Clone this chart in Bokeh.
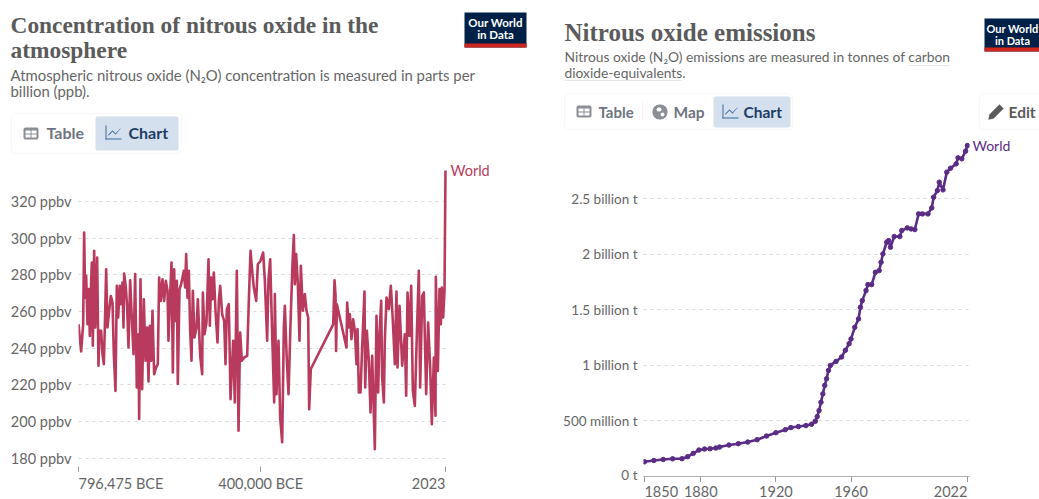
from bokeh.plotting import figure
from bokeh.layouts import row, column
from bokeh.models import Label, BoxAnnotation, PolyAnnotation, FixedTicker, Range1d
from bokeh.core.properties import value
from bokeh.embed import file_html
from bokeh.resources import INLINE

# --- Concentration (year in kyr, ppb) ---
conc_kyr = [-796.5,-790.7,-786.3,-784.2,-782.0,-779.8,-776.9,-774.7,-771.8,-769.7,-767.5,-765.3,-763.9,-762.4,-760.2,-758.1,-755.9,-753.0,-750.8,-747.2,-744.3,-741.4,-739.2,-736.3,-733.4,-729.8,-726.1,-722.5,-719.6,-716.0,-713.1,-710.2,-706.6,-704.4,-700.8,-698.6,-697.1,-693.5,-690.6,-687.7,-684.1,-680.5,-676.8,-673.2,-669.6,-666.0,-664.5,-661.6,-658.0,-654.3,-650.7,-647.1,-644.2,-641.3,-638.4,-635.5,-631.9,-627.5,-623.9,-621.0,-617.4,-613.7,-610.1,-606.5,-602.8,-600.7,-597.0,-594.1,-591.2,-588.3,-586.2,-582.5,-580.4,-576.7,-573.1,-570.2,-567.3,-564.4,-562.2,-559.3,-556.4,-553.5,-550.6,-547.7,-544.1,-539.7,-536.8,
 -531.7,-527.4,-525.9,-522.3,-518.0,-513.6,-510.7,-507.8,-504.9,-502.0,-498.4,-494.0,-491.1,-488.2,-483.9,-479.5,-476.6,-473.7,-469.4,-465.7,-459.9,-456.3,-452.0,-448.3,-444.7,-441.1,-436.0,-429.5,-425.9,-422.2,-418.6,-415.0,-409.9,-406.3,-400.5,-394.7,-391.0,-386.0,-383.1,-379.4,-375.1,-370.7,-369.3,-365.7,-361.3,-357.7,-353.3,-349.7,-347.5,-343.2,-339.5,-335.2,-330.8,-327.9,-325.8,-322.9,-319.2,-315.6,-312.7,-308.4,-304.0,-300.4,-296.7,-294.6,-291.0,
 -242.3,-239.4,-237.3,-236.0,-234.3,-213.4,-211.9,-208.3,-206.1,-202.5,-198.9,-195.2,-191.6,-189.4,-186.5,-182.9,-179.3,-174.2,-172.7,-169.1,-164.8,-161.1,-157.5,-151.7,-148.1,-144.5,-141.6,-137.9,-135.8,-132.1,-130.0,-126.3,-121.3,-116.9,-112.5,-108.2,-104.6,-102.4,-98.0,-92.2,-86.4,-83.5,-80.6,-76.3,-72.6,-69.0,-64.7,-60.3,-56.0,-53.1,-48.7,-45.1,-40.0,-35.7,-31.3,-27.7,-23.3,-19.7,-19.0,-14.6,-11.0,-8.1,-6.0,-3.0,-0.1,2.023]
conc_ppb = [253.1,238.2,253.1,303.1,267.6,279.5,253.1,272.2,246.7,270.4,286.7,241.3,267.6,293.1,251.3,265.8,289.5,230.4,249.5,249.5,236.7,231.3,251.3,283.1,251.3,260.4,268.5,264.9,236.7,216.7,274.0,256.7,274.0,264.0,275.8,251.3,280.7,273.1,262.2,240.4,277.1,256.7,236.7,280.4,218.6,247.6,201.3,277.6,217.6,266.7,233.1,251.3,221.8,252.2,233.1,260.4,225.8,229.5,231.3,278.5,265.8,277.6,265.8,276.7,271.3,244.0,269.5,286.7,226.7,283.1,254.9,276.7,220.4,272.2,274.9,278.5,282.2,273.1,291.3,267.6,282.2,249.5,233.1,271.3,245.8,251.3,266.7,
 235.8,225.8,270.4,247.6,254.0,288.5,252.2,278.5,266.7,281.3,260.4,243.1,265.8,274.0,258.5,254.9,231.3,261.3,264.0,212.2,244.0,210.4,282.2,194.9,248.5,233.1,234.9,235.8,265.8,293.1,282.2,273.1,265.8,285.8,287.6,292.2,276.7,244.0,277.6,288.5,247.6,210.4,269.5,214.9,244.0,202.2,188.6,251.3,263.1,233.1,214.9,253.1,286.7,301.8,274.9,291.3,274.9,244.0,284.9,260.4,269.5,260.4,256.7,206.7,228.6,
 253.0,277.0,269.5,238.5,264.0,240.4,264.9,251.3,258.5,244.9,255.8,249.5,231.3,250.4,215.8,215.8,240.4,270.9,218.5,249.5,233.1,204.9,235.8,184.9,257.6,215.8,247.6,265.8,224.0,210.4,244.0,267.6,261.3,274.0,254.9,231.3,270.9,229.5,263.1,230.4,247.6,214.0,270.4,246.7,274.0,216.7,208.5,247.6,282.2,218.5,268.5,270.4,214.9,254.0,229.5,198.5,234.9,203.1,278.9,227.6,272.2,253.1,273.1,256.7,271.3,337.0]
conc_years = [k * 1000 for k in conc_kyr]
conc_ticks = [320, 300, 280, 260, 240, 220, 200, 180]
conc_xtick = [-796475, -400000, 2023]
conc_xlabels = ["796,475 BCE", "400,000 BCE", "2023"]
conc_align = ["left", "center", "right"]

# --- Emissions (year, million tonnes) ---
emis_years = [1850,1855,1860,1865,1870,1873,1876,1879,1882,1885,1888,1890,1895,1900,1905,1910,1915,1920,1925,1928,1932,1936,1939,1941,1942,1943,1944,1945,1946,1947,1948,1949,1952,1955,1957,1959,1960,1962,1964,1965,1966,1968,1969,1971,1973,1975,1976,1977,1979,1980,1981,1983,1986,1987,1990,1992,1994,1996,1998,2001,2003,2004,2006,2007,2009,2011,2013,2016,2017,2019,2021,2022]
emis_mt = [132,144,153,159,160,178,208,238,247,250,256,265,283,295,310,331,364,394,421,440,449,458,470,497,539,593,668,743,819,879,954,999,1035,1075,1135,1195,1237,1342,1417,1522,1582,1672,1726,1726,1837,1852,1927,2002,2107,2122,2062,2158,2158,2212,2236,2227,2221,2362,2362,2362,2416,2512,2572,2647,2578,2737,2773,2812,2866,2857,2926,2977]
emis_ticks = [0, 500, 1000, 1500, 2000, 2500]
emis_ylabels = ["0 t", "500 million t", "1 billion t", "1.5 billion t", "2 billion t", "2.5 billion t"]
emis_xtick = [1850, 1880, 1920, 1960, 2022]
emis_xlabels = ["1850", "1880", "1920", "1960", "2022"]
emis_align = ["left", "center", "center", "center", "right"]

RED, PURPLE = "#b83b5e", "#5b2c86"
GREY, NAVY = "#666666", "#1d3d63"
TITLE = "#5b5b5b"
SERIF = "Liberation Serif"


def strip(w, h):
    p = figure(width=w, height=h, output_backend="svg", toolbar_location=None, outline_line_color=None,
               min_border=0, x_range=Range1d(0, w), y_range=Range1d(h, 0))
    p.axis.visible = False
    p.grid.visible = False
    return p


def tx(p, x, y, s, size, color, font="Lato", style="normal", align="left"):
    p.add_layout(Label(x=x, y=y, text=s, text_font=font, text_font_size=f"{size}px", text_color=color,
                       text_font_style=style, text_align=align, text_baseline="middle"))


def box(p, l, t, r, b, fill, line=None, rad=0, dash="solid"):
    p.add_layout(BoxAnnotation(left=l, right=r, top=t, bottom=b, fill_color=fill, fill_alpha=1 if fill else 0,
                               line_color=line, line_dash=dash, line_width=1, border_radius=rad, level="underlay"))


def logo(p, l, t, r, b, cx, size):
    box(p, l, t, r, b, "#002147")
    box(p, l, b - 4, r, b, "#ce261e")
    tx(p, cx, t + 10, "Our World", size, "white", style="bold", align="center")
    tx(p, cx, t + 22, "in Data", size, "white", style="bold", align="center")


def table_icon(p, l, t):
    box(p, l, t, l + 15, t + 12, "#8a8f96", rad=2)
    box(p, l + 2, t + 3, l + 7, t + 6, "white")
    box(p, l + 8, t + 3, l + 13, t + 6, "white")
    box(p, l + 2, t + 7, l + 7, t + 10, "white")
    box(p, l + 8, t + 7, l + 13, t + 10, "white")


def chart_icon(p, l, t):
    box(p, l, t, l + 1, t + 14, "#3f6a99")
    box(p, l, t + 13, l + 16, t + 14, "#3f6a99")
    p.add_layout(PolyAnnotation(xs=[l + 3, l + 7, l + 10, l + 15, l + 10, l + 7, l + 3],
                                ys=[t + 9, t + 5, t + 8, t + 3, t + 9, t + 6, t + 10],
                                fill_color="#3f6a99", fill_alpha=1, line_color="#3f6a99", line_width=1, level="underlay"))


def style_y(ya, size, standoff):
    ya.axis_line_color = None
    ya.major_tick_line_color = None
    ya.major_tick_out = 0
    ya.major_tick_in = 0
    ya.minor_tick_line_color = None
    ya.minor_tick_out = 0
    ya.major_label_text_font = "Lato"
    ya.major_label_text_font_size = size
    ya.major_label_text_color = GREY
    ya.major_label_standoff = standoff


def style_x(xa, ticks, line):
    xa.ticker = FixedTicker(ticks=ticks)
    xa.major_label_overrides = {t: "" for t in ticks}
    xa.major_label_text_font_size = "1px"
    xa.major_label_standoff = 0
    xa.axis_line_color = line
    xa.major_tick_line_color = "#999999"
    xa.major_tick_in = 0
    xa.major_tick_out = 6
    xa.minor_tick_line_color = None
    xa.minor_tick_out = 0


# ---------- Left ----------
lhead = strip(530, 160)
tx(lhead, 10, 24, "Concentration of nitrous oxide in the", 23.4, TITLE, font=SERIF, style="bold")
tx(lhead, 10, 49, "atmosphere", 23.4, TITLE, font=SERIF, style="bold")
tx(lhead, 10, 74, "Atmospheric nitrous oxide (N\u2082O) concentration is measured in parts per", 14.9, GREY)
tx(lhead, 10, 90, "billion (ppb).", 14.9, GREY)
logo(lhead, 464, 12, 526, 47, 495, 11.5)
box(lhead, 11, 113, 181, 153, "white", "#e4e6e8", rad=4)
box(lhead, 95, 116, 178, 150, "#d4e0ee", rad=2)
table_icon(lhead, 23, 127)
tx(lhead, 46, 132, "Table", 16, "#6e7581", style="bold")
chart_icon(lhead, 105, 125)
tx(lhead, 128, 132, "Chart", 16, NAVY, style="bold")

left = figure(width=530, height=312, output_backend="svg", toolbar_location=None,
              x_range=Range1d(-796475, 6400), y_range=Range1d(175.4, 339.7),
              min_border_left=78, min_border_right=83, min_border_top=5, min_border_bottom=6,
              outline_line_color=None)
left.line(conc_years, conc_ppb, line_color=RED, line_width=2.6, line_join="round")
left.xgrid.visible = False
left.ygrid.ticker = FixedTicker(ticks=conc_ticks)
left.ygrid.grid_line_color = "#d9d9d9"
left.ygrid.grid_line_dash = "3 4"
left.yaxis[0].ticker = FixedTicker(ticks=conc_ticks)
left.yaxis[0].major_label_overrides = {v: f"{v} ppbv" for v in conc_ticks}
style_y(left.yaxis[0], "14.5px", 7)
style_x(left.xaxis[0], conc_xtick, None)
left.add_layout(Label(x=conc_xtick[-1], y=conc_ppb[-1], x_offset=5, y_offset=0, text="World", text_font="Lato",
                      text_font_size="14.5px", text_color=RED, text_baseline="middle"), "right")

lfoot = figure(width=530, height=27, output_backend="svg", toolbar_location=None, outline_line_color=None,
               x_range=left.x_range, y_range=Range1d(0, 27), min_border_left=78, min_border_right=83,
               min_border_top=0, min_border_bottom=0)
lfoot.axis.visible = False
lfoot.grid.visible = False
lfoot.text(conc_xtick, [16] * 3, text=conc_xlabels, text_align=conc_align, text_baseline="middle",
           text_font=value("Lato"), text_font_size="14.5px", text_color=GREY)

# ---------- Right ----------
O = 530
rhead = strip(509, 130)
tx(rhead, 564 - O, 32, "Nitrous oxide emissions", 25, TITLE, font=SERIF, style="bold")
tx(rhead, 564 - O, 56, "Nitrous oxide (N\u2082O) emissions are measured in tonnes of carbon", 13.8, GREY)
tx(rhead, 564 - O, 72, "dioxide-equivalents.", 13.8, GREY)
box(rhead, 908 - O, 65, 950 - O, 65, None, "#aaaaaa", dash="1 1")
box(rhead, 564 - O, 80, 681 - O, 80, None, "#aaaaaa", dash="1 1")
logo(rhead, 984 - O, 18, 1044 - O, 51, 1012 - O, 11)
box(rhead, 564 - O, 93, 792 - O, 129, "white", "#e4e6e8", rad=4)
box(rhead, 713 - O, 96, 790 - O, 127, "#d4e0ee", rad=2)
table_icon(rhead, 576 - O, 105)
tx(rhead, 598 - O, 111, "Table", 15, "#6e7581", style="bold")
box(rhead, 642 - O, 102, 642.6 - O, 120, "#e4e6e8")
box(rhead, 652 - O, 104, 667 - O, 119, "#8a8f96", rad=7)
box(rhead, 656 - O, 107, 661 - O, 111, "white", rad=2)
box(rhead, 660 - O, 112, 664 - O, 116, "white", rad=2)
tx(rhead, 673 - O, 111, "Map", 15.5, "#6e7581", style="bold")
chart_icon(rhead, 722 - O, 104)
tx(rhead, 743 - O, 111, "Chart", 15.5, NAVY, style="bold")
box(rhead, 979 - O, 93, 1045 - O, 129, "white", "#e4e6e8", rad=4)
tx(rhead, 1008 - O, 111, "Edit", 15.5, TITLE, style="bold")
rhead.add_layout(PolyAnnotation(xs=[459, 469, 473, 463, 458], ys=[114, 104, 108, 118, 119],
                                fill_color=TITLE, fill_alpha=1, line_color=TITLE, level="underlay"))

right = figure(width=509, height=352, output_backend="svg", toolbar_location=None,
               x_range=Range1d(1849.5, 2023.1), y_range=Range1d(0, 3112),
               min_border_left=113, min_border_right=70, min_border_top=0, min_border_bottom=6,
               outline_line_color=None)
right.line(emis_years, emis_mt, line_color=PURPLE, line_width=2.6)
right.scatter(emis_years, emis_mt, size=4.5, fill_color=PURPLE, line_color=PURPLE)
right.xgrid.visible = False
right.ygrid.ticker = FixedTicker(ticks=emis_ticks[1:])
right.ygrid.grid_line_color = "#d9d9d9"
right.ygrid.grid_line_dash = "3 4"
right.yaxis[0].ticker = FixedTicker(ticks=emis_ticks)
right.yaxis[0].major_label_overrides = dict(zip(emis_ticks, emis_ylabels))
style_y(right.yaxis[0], "13.5px", 6)
style_x(right.xaxis[0], emis_xtick, "#b0b0b0")
right.add_layout(Label(x=emis_xtick[-1], y=emis_mt[-1], x_offset=5, y_offset=0, text="World", text_font="Lato",
                       text_font_size="14px", text_color=PURPLE, text_baseline="middle"), "right")

rfoot = figure(width=509, height=17, output_backend="svg", toolbar_location=None, outline_line_color=None,
               x_range=right.x_range, y_range=Range1d(0, 17), min_border_left=113, min_border_right=70,
               min_border_top=0, min_border_bottom=0)
rfoot.axis.visible = False
rfoot.grid.visible = False
rfoot.text(emis_xtick, [8] * 5, text=emis_xlabels, text_align=emis_align, text_baseline="middle",
           text_font=value("Lato"), text_font_size="14.5px", text_color=GREY)

lcol = column(row(lhead), left, lfoot, spacing=0)
rcol = column(row(rhead), right, rfoot, spacing=0)
layout = row(lcol, rcol, spacing=0)
open("out.html", "w").write(file_html(layout, INLINE))
